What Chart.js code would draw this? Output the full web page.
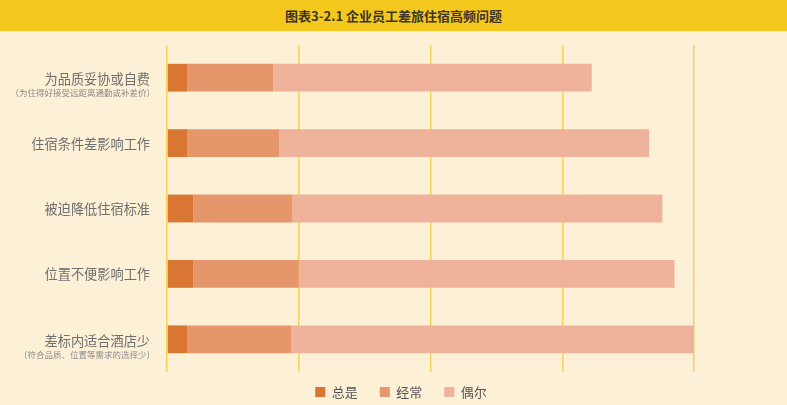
<!DOCTYPE html>
<html>
<head>
<meta charset="utf-8">
<script src="https://cdn.jsdelivr.net/npm/chart.js@4/dist/chart.umd.min.js"></script>
<style>
    html, body { margin: 0; padding: 0; background: #fcf0d7; overflow: hidden; }
    #banner {
        height: 31px; line-height: 31px; background: #f5c81e;
        text-align: center; color: #3b3526; font-size: 13px; font-weight: bold;
        font-family: "Noto Sans CJK SC", sans-serif;
    }
    #wrap { position: relative; width: 787px; height: 374px; }
</style>
</head>
<body>
<div id="banner">图表3-2.1 企业员工差旅住宿高频问题</div>
<div id="wrap"><canvas id="bar-chart"></canvas></div>
<script>
    // Data (percent)
    var categories = ["为品质妥协或自费", "住宿条件差影响工作", "被迫降低住宿标准", "位置不便影响工作", "差标内适合酒店少"];
    var subLabels = ["（为住得好接受远距离通勤或补差价）", "", "", "", "（符合品质、位置等需求的选择少）"];
    var always = [3.8, 3.8, 5.0, 5.0, 3.8];
    var often = [16.4, 17.5, 18.8, 20.0, 19.8];
    var sometimes = [60.4, 70.2, 70.2, 71.3, 76.4];

    var FONT = "'Noto Sans CJK SC', sans-serif";
    Chart.defaults.font.family = FONT;

    // Category labels with a smaller second line
    var sideLabels = {
        id: "sideLabels",
        afterLayout: function (chart) {
            // pull the legend row up a little, closer to the plot
            if (chart.legend) {
                chart.legend.top -= 8.5;
                chart.legend.bottom -= 8.5;
            }
        },
        afterDraw: function (chart) {
            var ctx = chart.ctx;
            var y = chart.scales.y;
            ctx.save();
            ctx.textAlign = "right";
            ctx.textBaseline = "middle";
            categories.forEach(function (label, i) {
                var py = y.getPixelForTick(i);
                ctx.fillStyle = "#6e6e6e";
                ctx.font = "13.2px " + FONT;
                if (subLabels[i]) {
                    ctx.fillText(label, 150, py + 1.5);
                    ctx.fillStyle = "#8a8a8a";
                    ctx.font = "8.5px " + FONT;
                    ctx.fillText(subLabels[i], 155, py + 15.5);
                } else {
                    ctx.fillText(label, 150, py + 0.5);
                }
            });
            ctx.restore();
        }
    };

    var ctx1 = document.getElementById("bar-chart").getContext("2d");
    var myChart1 = new Chart(ctx1, {
        type: "bar",
        data: {
            labels: categories,
            datasets: [
                { label: "总是", data: always, backgroundColor: "#d97634" },
                { label: "经常", data: often, backgroundColor: "#e5976b" },
                { label: "偶尔", data: sometimes, backgroundColor: "#eeb39a" }
            ]
        },
        options: {
            indexAxis: "y",
            responsive: true,
            maintainAspectRatio: false,
            animation: false,
            layout: { padding: { top: 14, left: 15, right: 0, bottom: -12 } },
            datasets: { bar: { barPercentage: 0.85, categoryPercentage: 0.5 } },
            scales: {
                x: {
                    stacked: true, min: 0, max: 100,
                    ticks: { display: false, stepSize: 25 },
                    grid: { color: "#f6d25a", lineWidth: 1.5, drawTicks: false },
                    border: { display: false }
                },
                y: {
                    stacked: true,
                    ticks: { display: false },
                    grid: { display: false, drawTicks: false },
                    border: { display: false },
                    afterFit: function (scale) { scale.width = 152; }
                },
                yRight: {
                    position: "right",
                    ticks: { display: false },
                    grid: { display: false, drawTicks: false },
                    border: { display: false },
                    afterFit: function (scale) { scale.width = 93; }
                }
            },
            plugins: {
                legend: {
                    position: "bottom",
                    labels: { boxWidth: 10, boxHeight: 10, padding: 22, color: "#555", font: { size: 13 } }
                },
                tooltip: { enabled: true }
            }
        },
        plugins: [sideLabels]
    });
</script>
</body>
</html>
